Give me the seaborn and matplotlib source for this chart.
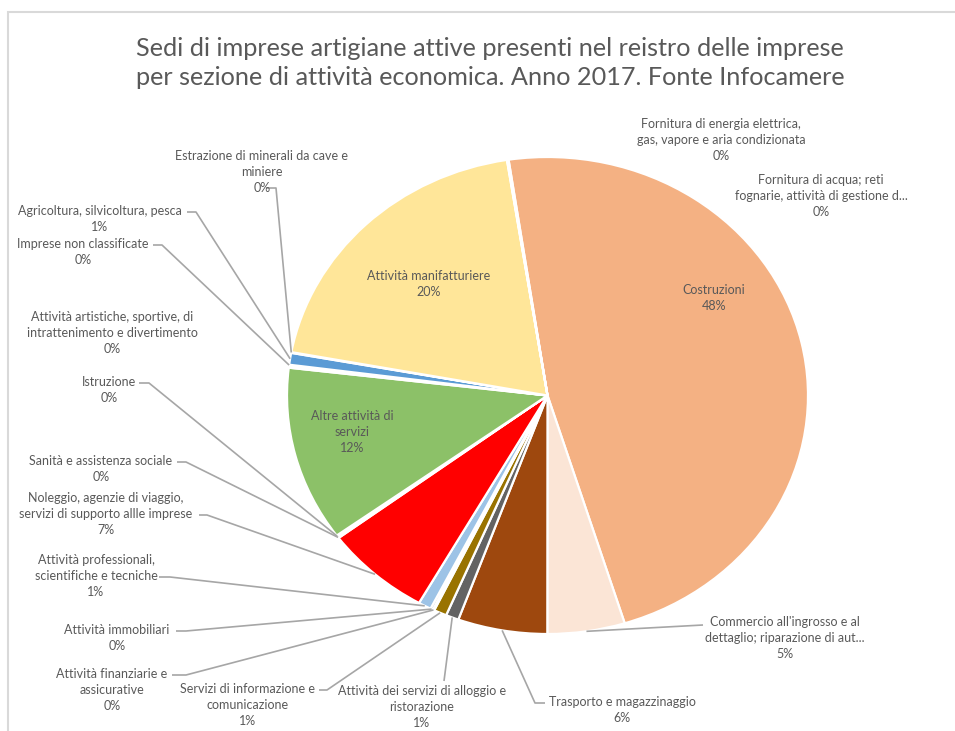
import numpy as np
import matplotlib
matplotlib.use("Agg")
import matplotlib.pyplot as plt
import seaborn as sns

# Sections of economic activity, in clockwise drawing order starting from "Costruzioni"
categories = [
    "Costruzioni",
    "Commercio all'ingrosso e al dettaglio; riparazione di aut...",
    "Trasporto e magazzinaggio",
    "Attività dei servizi di alloggio e ristorazione",
    "Servizi di informazione e comunicazione",
    "Attività finanziarie e assicurative",
    "Attività immobiliari",
    "Attività professionali, scientifiche e tecniche",
    "Noleggio, agenzie di viaggio, servizi di supporto allle imprese",
    "Sanità e assistenza sociale",
    "Istruzione",
    "Altre attività di servizi",
    "Attività artistiche, sportive, di intrattenimento e divertimento",
    "Imprese non classificate",
    "Agricoltura, silvicoltura, pesca",
    "Estrazione di minerali da cave e miniere",
    "Attività manifatturiere",
    "Fornitura di energia elettrica, gas, vapore e aria condizionata",
    "Fornitura di acqua; reti fognarie, attività di gestione d...",
]
# share of artisan enterprises (%)
shares = [47.6, 4.8, 5.55, 0.8, 0.8, 0.1, 0.15, 0.8, 6.6, 0.1, 0.1, 11.85,
          0.15, 0.05, 0.8, 0.05, 19.6, 0.03, 0.07]

# label text as wrapped on the chart (without the percentage)
label_lines = [
    "Costruzioni",
    "Commercio all'ingrosso e al\ndettaglio; riparazione di aut...",
    "Trasporto e magazzinaggio",
    "Attività dei servizi di alloggio e\nristorazione",
    "Servizi di informazione e\ncomunicazione",
    "Attività finanziarie e\nassicurative",
    "Attività immobiliari",
    "Attività professionali,\nscientifiche e tecniche",
    "Noleggio, agenzie di viaggio,\nservizi di supporto allle imprese",
    "Sanità e assistenza sociale",
    "Istruzione",
    "Altre attività di\nservizi",
    "Attività artistiche, sportive, di\nintrattenimento e divertimento",
    "Imprese non classificate",
    "Agricoltura, silvicoltura, pesca",
    "Estrazione di minerali da cave e\nminiere",
    "Attività manifatturiere",
    "Fornitura di energia elettrica,\ngas, vapore e aria condizionata",
    "Fornitura di acqua; reti\nfognarie, attività di gestione d...",
]

slice_colors = [
    "#F4B183", "#FBE5D6", "#9E480E", "#636363", "#997300", "#A5A5A5",
    "#7F7F7F", "#9DC3E6", "#FF0000", "#C9C9C9", "#D0CECE", "#8CC168",
    "#BF9000", "#264478", "#5B9BD5", "#43682B", "#FFE699", "#ED7D31",
    "#A5A5A5",
]

# ---- layout (pixels, origin top-left) ----
W, H = 955, 731
CX, CY, RX, RY = 547.5, 395.5, 260.5, 238.5
START_ANGLE = 98.6

# label centre and leader-line anchor (None = no leader)
label_layout = [
    ((714, 298), None),
    ((785, 638), [(703, 625)]),
    ((622, 710), [(545, 703), (535, 703)]),
    ((422, 707), [(444, 681)]),
    ((248, 705), [(319, 690), (327, 690)]),
    ((112, 690), [(172, 675), (186, 675)]),
    ((117, 638), [(176, 631), (186, 631)]),
    ((96, 576), [(159, 577), (170, 577)]),
    ((106, 514), [(199, 515), (207, 515)]),
    ((101, 469), [(177, 462), (186, 462)]),
    ((109, 390), [(139, 383), (149, 383)]),
    ((352, 432), None),
    ((112, 333), None),
    ((83, 252), [(153, 245), (162, 245)]),
    ((100, 219), [(187, 212), (196, 212)]),
    ((262, 172), [(266, 188), (276, 188)]),
    ((429, 284), None),
    ((721, 140), None),
    ((821, 196), None),
]

TEXT = "#595959"
LEADER = "#A6A6A6"

sns.set_theme(style="white")
plt.rcParams["font.family"] = ["Lato", "DejaVu Sans"]

fig = plt.figure(figsize=(W / 100, H / 100), dpi=100)
fig.patch.set_facecolor("white")

# chart-area frame
frame_ax = fig.add_axes([0, 0, 1, 1])
frame_ax.set_xlim(0, W)
frame_ax.set_ylim(H, 0)
frame_ax.axis("off")
frame_ax.plot([8, 8, W + 5], [H + 5, 12, 12], color="#D9D9D9", lw=1.5,
              solid_joinstyle="miter")

# pie axes sized to the ellipse bounding box
ax = fig.add_axes([(CX - RX) / W, (H - (CY + RY)) / H, 2 * RX / W, 2 * RY / H])
palette = sns.color_palette(slice_colors)
wedges, _ = ax.pie(
    shares, colors=palette, startangle=START_ANGLE, counterclock=False,
    radius=1.0, wedgeprops=dict(edgecolor="white", linewidth=1.6),
)
ax.set_aspect("auto")
ax.set_xlim(-1, 1)
ax.set_ylim(-1, 1)
ax.axis("off")


def to_pie(px, py):
    return (px - CX) / RX, (CY - py) / RY


total = float(np.sum(shares))
for wedge, text, share, (centre, anchor) in zip(wedges, label_lines, shares, label_layout):
    pct = f"{share / total * 100:.0f}%"
    tx, ty = to_pie(*centre)
    ax.text(tx, ty, f"{text}\n{pct}", ha="center", va="center",
            multialignment="center", fontsize=9, color=TEXT,
            linespacing=1.42, clip_on=False)
    if anchor is not None:
        mid = np.deg2rad((wedge.theta1 + wedge.theta2) / 2)
        pts = [to_pie(*p) for p in anchor] + [(np.cos(mid), np.sin(mid))]
        xs, ys = zip(*pts)
        ax.plot(xs, ys, color=LEADER, lw=1.2, clip_on=False,
                solid_capstyle="butt")

fig.text(490 / W, 1 - 63 / H,
         "Sedi di imprese artigiane attive presenti nel reistro delle imprese\n"
         "per sezione di attività economica. Anno 2017. Fonte Infocamere",
         ha="center", va="center", fontsize=18.2, color=TEXT, linespacing=1.3)

fig.savefig("out.png", dpi=100, facecolor="white")
